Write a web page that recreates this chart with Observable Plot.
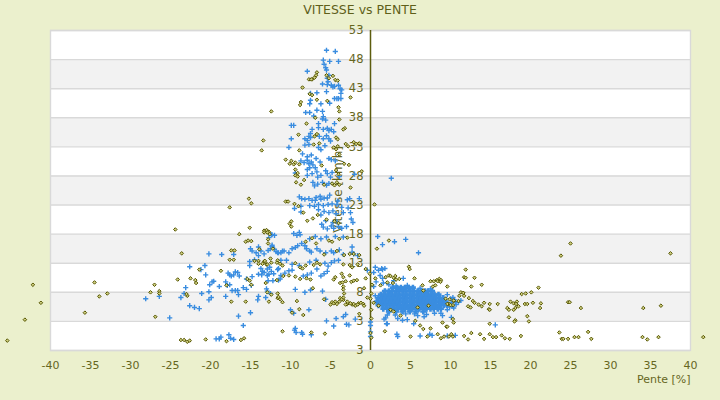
<!DOCTYPE html>
<html>
<head>
<meta charset="utf-8">
<script src="https://cdn.jsdelivr.net/npm/d3@7"></script>
<script src="https://cdn.jsdelivr.net/npm/@observablehq/plot@0.6"></script>
<style>
  html, body { margin: 0; padding: 0; background: #ebf0cd; width: 720px; height: 400px; overflow: hidden; }
  #title { height: 20px; line-height: 20px; text-align: center; font-family: "DejaVu Sans", sans-serif; font-size: 12.5px; color: #5f5f1a; }
</style>
</head>
<body>
<div id="title">VITESSE vs PENTE</div>
<div id="chart"></div>
<script>
// ---- axis ticks ----
const xTicks = [-40, -35, -30, -25, -20, -15, -10, -5, 0, 5, 10, 15, 20, 25, 30, 35, 40];
const yTicks = [-2, 3, 8, 13, 18, 23, 28, 33, 38, 43, 48, 53];
const yTickLabels = ["3", "3", "8", "13", "18", "23", "28", "33", "38", "43", "48", "53"];
const xTitle = "Pente [%]";
const yTitle = "Vitesse [km/h]";

// ---- series 1 (olive) : [pente %, vitesse km/h] ----
const oliveLeft = [
  [-45.4,-0.3],[-43.2,3.3],[-42.2,9.3],[-41.2,6.2],[-35.7,4.5],[-34.5,9.7],[-33.9,7.3],[-32.9,7.8],
  [-27.5,8.0],[-27,9.3],[-26.9,3.8],[-26.4,8.2],[-26.4,7.8],[-24.4,18.8],[-23.6,14.7],[-24.1,10.2],
  [-23.7,-0.2],[-23.3,-0.2],[-22.9,-0.5],[-22.6,-0.3],[-22.9,7.4],[-23,7.7],[-22.5,10.4],[-21.9,10.1],
  [-21.8,9.6],[-21.4,11.9],[-20.6,-0.1],[-18.7,11.7],[-18,9.2],[-17.6,13.6],[-17.1,13.6],[-17.4,15.2],
  [-17,15.2],[-17.4,6.4],[-18,-0.4],[-16.2,-0.2],[-15.8,0.1],[-17.6,22.6],[-15.2,24.1],[-14.9,23.3],
  [-15.1,19.1],[-16.4,18],[-15.6,16.7],[-15.3,16.9],[-14.9,16.8],[-15.6,6.4],[-15.4,10.3],[-15.1,10],
  [-14.9,9.3],[-13.9,15.4],[-14.5,13.4],[-14,13.4],[-13.3,13.3],[-14,12.9],[-13.5,12.9],[-13,12.8],
  [-13.3,18.6],[-13,18.7],[-12.7,18.4],[-12.2,15.5],[-12.5,13.8],[-11.6,13.5],[-12.7,6.4],[-11.6,7.8],
  [-11.6,7.0],[-11.7,10.1],[-13.4,34.1],[-13.6,32.4],[-12.4,39.1]
];
const oliveSpike = [
  [-7,44.9],[-7.3,44.6],[-6.7,45.8],[-6.8,45.3],[-5.5,45.3],[-5.2,44.8],[-4.7,45.2],[-4.4,44.5],[-4.1,44.4],
  [-7.7,44.6],[-7.4,44.6],[-8.5,43.2],[-7.6,42.1],[-7.3,41.9],[-2.5,41.5],[-8.7,40.7],[-8.8,40.2],[-6.7,41.1],
  [-5.4,40.9],[-4,39.8],[-3.9,39.1],[-6.9,38],[-3.9,37.7],[-8,37],[-3.2,36.2],[-3.4,36],[-9,35.1],[-7,34.8],
  [-6.7,35.2],[-4.3,34.6],[-4.1,34.3],[-8.9,32.4],[-7.1,33.4],[-6.4,33.6],[-4.6,32.9],[-4.3,32.6],[-4.1,33.1],
  [-3.1,33.5],[-2.8,33.1],[-2.1,33.8],[-1.8,33.5],[-1.4,33.6],[-3.9,31.7],[-10.6,30.8],[-9.9,30.6],[-10.1,30.1],
  [-9.6,30],[-9.4,30.3],[-8.9,30],[-6.1,29.8],[-3.3,30.1],[-2.7,29.9],[-9.4,29.1],[-9.1,28.5],[-9.4,28.1],
  [-9.1,27.9],[-4.3,29],[-4,28.3],[-1.1,28.8],[-9.3,26.9],[-8.7,26.5],[-8.3,27.3],[-5.8,26.5],[-4.8,26.7],
  [-4.5,26.4],[-4.2,26.9],[-3.9,26.5],[-2.5,26],[0.5,23.1],
  [-10.6,23.6],[-10.3,23.6],[-9.5,23.2],[-9,22.8],[-8.4,21.7],[-7.9,20.3],[-7.2,20.7],[-6.6,21.3],[-9.9,20.2],
  [-10.1,19.8],[-9.9,19.3],[-5.5,20.5],[-4.5,20.2],[-4,19.9],[-13.3,18.3],[-12.9,18.3],[-12.6,18],[-12.8,17.1],
  [-12.8,16.4],[-8.1,16.7],[-7.3,17.3],[-6.8,16.4],[-5.2,16.9],[-4.8,16.7],[-3.9,17.2],[-2.9,17.4],[-5.8,14.5],
  [-4.2,15.1],[-3.3,14.4],[-2.6,14.6],[-2.1,14.6],[-1.4,14.4],[-13.2,13.4],[-12.9,12.8],[-12.4,13.1],[-11.7,13.1],
  [-11.3,12.9],[-11,12.6],[-9.4,13],[-8.8,12.3],[-8.5,12.1],[-8.1,12.6],[-7.1,12.7],[-6.7,13.1],[-6.3,12.8],
  [-3.4,12.8],[-2.6,12.7],[-2.3,12.3],[-1.6,12.8],[-10.9,10.8],[-10.2,10.9],[-9.4,10.7],[-8.8,10.3],[-8,10.4],
  [-7.5,10.2],[-4.4,10.6],[-3.8,9.6],[-3.1,9.9],[-2.4,9.8],[-2.1,10],[-1.7,10.1],[-13.1,9.6],[-12.9,8],
  [-12.4,7.6],[-11.5,7.2],[-11.3,6.8],[-11,6.3],[-9.2,6.5],[-7.2,8.7],[-5.8,6.8],[-5,5.9],[-4.8,6.3],[-4.6,6.1],
  [-3.8,7],[-3.4,6.7],[-2.9,6],[-2.3,5.9],[-1.9,5.7],[-1.5,6.1],[-9.8,4.5],[-8.9,5.1],[-8.4,4.1],[-11,1.3],
  [-7.4,1.1],[-5.7,0.9],
  [-4.6,10.2],[-3.6,11.2],[-3.4,10.6],[-3.5,9.7],[-3.4,9],[-3.4,8.5],[-3.3,7.8],[-3.4,7.1],[-3.6,6.8],
  [-2.9,6.4],[-3.1,5.9],[-2.5,6.1],[-2.1,6.0],[-1.6,5.9],[-1.2,6.2],[-0.9,6.0],[-4.4,6.4],[-4.2,6.0],
  [-3.9,6.4],[-2.6,10.9],[-1.4,4.3],[-0.6,10.4],[-0.8,8.7],[-0.4,7.1],[-0.8,5.7],[-0.1,11.2],[-0.6,12.0]
];
const oliveRight = [
  [0,6.9],[0.4,6.2],[1,5.7],[0.6,10.4],[1.25,9.2],[2.1,9.7],[2.3,10.9],[2.9,10.5],[3.1,10.8],[0.1,3.5],
  [0,1],[0.1,0.2],[0.2,9.3],[0.1,7.8],[0.1,5.0],
  [4.8,12.4],[4.9,12.0],[11.9,11.9],[11.7,10.6],[11.9,10.5],[13,10.5],[8.6,10.3],[8.3,10.1],[8.8,10.1],
  [7.9,9.9],[7.8,9],[8.1,9.2],[5.5,10.4],[3.2,10.2],[3.6,10.3],[2.8,9.6],[2.5,10.8],[1.9,10.6],[9.6,9],
  [12.6,9],[13.9,9.3],[21,8.8],[20.1,8],[19.4,7.8],[18.9,7.7],[11.6,7.9],[11.7,7.4],[12.3,7],[11.1,7.4],
  [10.4,6.5],[10.3,5.8],[9.8,6],[12.8,6.5],[13,6.2],[13.5,5.9],[13.9,5.6],[14.2,6.2],[14.9,6],[15.9,6],
  [14.8,5.1],[14.9,5],[17.5,6.4],[17.9,6.1],[18.3,6.4],[18.2,6],[17.1,5.3],[17.3,5],[18.1,5.3],[17.9,5],
  [18.5,5.6],[19.3,6],[19.6,6],[20.3,6.2],[21.3,6.1],[21.2,5.3],[24.7,6.3],[24.9,6.3],[26.3,5.3],[34.1,5.3],
  [36.3,5.7],[17.3,3.7],[18.1,3.2],[18,3],[19.6,3.9],[19.8,3],[14.9,2.6],[18.8,0.5],[17.4,0],[23.6,1.1],
  [23.9,0],[24.1,0],[24.7,0],[25.5,0.3],[26,0.3],[27.2,1.2],[27.6,0],[34,0.3],[34.6,-0.1],[36,0.3],[41.6,0.3],
  [11.7,0.5],[12.6,1],[12.2,-0.1],[13.7,0.8],[14.2,0],[14.9,0.8],[15.3,0.3],[15.7,0.3],[16.4,0.6],[16.8,0.1],
  [8.4,0.8],[8.8,0.1],[9.2,0.4],[9.8,0.4],[10.1,0.8],[10.3,0.4],[5.0,0.4],[7.1,0.4],[7.5,1.8],[1.8,1.3],
  [5.6,3.1],[6.2,2.3],[6.6,1.7],[9.5,2.1],[9.6,2.1],[10.3,3.4],[10.4,2.8],
  [0.8,15.5],[2.3,16.9],[25,16.4],[23.8,14.3],[37.5,14.7],
  [6.5,9.2],[6.6,8.3],[7.5,9.9],[8.4,9.9],[8.75,9.8],[9.4,6.9],[9.9,6.8],[10.4,6.6],[11,6.5],[9.6,6],
  [10,5.8],[11.3,8],[11.6,7.9],[12.2,5.6],[12.5,5.4],[2.5,5],[2.9,4.7],[3.75,4],[5.9,5.4],[7.25,5.7],[9,2.8]
];

// ---- series 2 (blue) ----
const blueLeft = [
  [-28.1,6.9],[-26.4,7.3],[-25.1,3.6],[-23.7,7.1],[-23.3,7.8],[-23.1,8.8],[-22.6,12.4],[-22.6,5.7],
  [-22,5.4],[-21.4,5.2],[-21.2,11.9],[-21.1,7.8],[-20.7,12.6],[-20.6,11],[-20.2,14.6],[-20.2,8.1],
  [-20.2,6.7],[-20.1,9.3],[-19.8,9.8],[-19.6,9.9],[-19.9,7.1],[-19.3,0],[-18.9,0],[-18.9,9],[-18.6,14.5],
  [-18.1,9.8],[-17.9,9.2],[-17.6,9.3],[-18.1,7.3],[-17.8,11.3],[-17.6,11.0],[-17.1,14.5],[-17.1,11],
  [-16.9,11.5],[-16.6,11.4],[-17.3,8.3],[-16.9,8.3],[-16.6,8.3],[-16.5,7.6],[-16.5,3.9],[-17.7,0.7],
  [-17.1,-0.1],[-16.4,10.8],[-17.4,10.8],[-15.9,8.8],[-15.5,8.5],[-15.9,2.3],[-15,4.5],[-15.1,13.3],
  [-15.1,12.6],[-15,15.5],[-14.8,15.1],[-14,15.8],[-14.3,14.8],[-14,14.3],[-14.5,13.6],[-12.8,15.2],
  [-12.5,15.5],[-12.3,15.9],[-11.8,15],[-11.6,14.8],[-15.5,10.3],[-14.8,10.7],[-14,11.1],[-13.5,11.6],
  [-12.9,12],[-12.6,12.3],[-13.6,11],[-12.9,10.9],[-12.2,10],[-11.5,10.1],[-11.3,10.3],[-11.6,11.9],
  [-14.9,9.2],[-13,8.6],[-12.9,8.2],[-14,7.3],[-14.1,6.7],[-13.1,7.1],[-12.5,7.8],[-12.4,17.9],[-12.7,17.4],
  [-18.7,0.3],[-17.5,0.1]
];
const blueSpike = [
  [-5.5,49.6],[-4.4,49.4],[-5.9,47.9],[-5.8,47.2],[-5.6,46.6],[-5.1,47.7],[-4,47.7],[-5.5,46.2],[-5.2,45.3],
  [-5.4,44.8],[-7.9,46],[-6,43.8],[-5.3,44.2],[-5.4,43.7],[-7.5,42.2],[-6.7,42.3],[-5.5,42.5],[-4.9,43.6],
  [-4.7,43.3],[-4.5,43.4],[-4,43.6],[-3.8,43],[-3.6,42.8],[-3.7,42.2],[-4.5,41.3],[-4.2,41.3],[-4,41.3],
  [-3.7,41.3],[-7.5,41],[-7.6,40.4],[-6.2,40.4],[-5.1,40.5],[-8.1,38.9],[-7.6,38.9],[-6.7,39.3],[-6,39.1],
  [-7.1,38.3],[-5.9,38.2],[-5.6,37.6],[-6,37.8],[-6.5,37],[-9.9,36.7],[-9.6,36.7],[-7.3,36],[-7.5,35.3],
  [-6.5,36.3],[-5.9,36],[-5.4,36.2],[-5.2,35.8],[-4.9,36],[-4.6,35.6],[-4.5,37],[-9.9,34.4],[-8.2,34.4],
  [-7.9,34.1],[-7.7,34.8],[-7.5,34.6],[-6.4,34.8],[-5.9,34.4],[-5.5,34.9],[-5.2,34.4],[-5,34],[-10.2,32.9],
  [-8.2,33.3],[-7.7,33.4],[-8.5,31.8],[-7.9,31.3],[-7.4,31.6],[-6.5,32.9],[-6.2,32.5],[-5.7,33.2],[-8.7,30.6],
  [-8.3,30.3],[-7.9,30.7],[-7.7,30.1],[-7.4,30.4],[-7.2,29.9],[-6.8,31],[-6.3,30.4],[-5.2,31],[-4.9,30.8],
  [-4.4,30.6],[-7.9,29.1],[-7.6,29.4],[-7.3,28.4],[-7.9,28.1],[-6.9,29.4],[-6.7,28.7],[-6.2,28.1],[-6.6,27.8],
  [-5.6,28.9],[-5.4,28.4],[-5,27.8],[-4.8,28.6],[-3.9,27.9],[-9.4,28.5],[-7.2,26.9],[-7,26.3],[-6.6,26.6],
  [-6,26.9],[-5.5,26.4],[-5.2,26.7],[-2,28.3],[2.6,27.6],
  [-8.9,24.4],[-8.6,24.1],[-8.2,24],[-7.7,24.1],[-7.3,23.8],[-6.9,23.8],[-6.8,24.3],[-6.3,24.5],[-6.2,24],
  [-5.8,24.2],[-5.4,24.2],[-5.1,24.7],[-4.1,23.7],[-2.9,23.9],[-2.6,24.1],[-1.4,24.1],[-8.7,22.8],[-7.6,22.9],
  [-7,22.8],[-6.5,23.1],[-5.9,22.9],[-5.3,23.1],[-4.8,23.2],[-4.2,23.1],[-9.5,22.4],[-8.7,21.8],[-6.5,22.2],
  [-6.2,21.3],[-5.8,21.9],[-5.2,21.7],[-4.7,22],[-4.3,21.5],[-3.6,22.6],[-3.4,21.7],[-2.8,22.5],[-2.5,21.7],
  [-2.4,20.6],[-2.2,20],[-5.6,20.3],[-4.7,20],[-4.2,20.1],[-6.1,19.7],[-5.9,19.2],[-5.4,18.9],[-4.9,19.4],
  [-4.6,19],[-4,19.3],[-3.6,19],[-3,19.3],[-12.3,17.9],[-12,17.8],[-9.6,18.1],[-9.2,17.8],[-8.9,18.3],
  [-8.8,17.9],[-7.6,17.2],[-6.9,17.6],[-6.2,17.2],[-5.5,17.5],[-4.4,17.6],[-3.4,17.5],[-2.3,15.8],[-2.3,14.9],
  [-12.3,16.1],[-12,15.4],[-11.5,14.8],[-11.2,14.8],[-11,15.1],[-13.7,15.1],[-13.3,14.6],[-10.8,15.1],
  [-10.2,14.8],[-9.8,15.5],[-9.4,15.7],[-9.1,16],[-8.6,16.4],[-8.2,16],[-8,15.5],[-7.6,15.1],[-7.4,14.9],
  [-6.7,15.5],[-6.3,15.1],[-5.6,14.8],[-4.9,15.1],[-4.6,14.8],[-3.9,15.3],[-3.4,14.5],[-2.1,14.6],[-1.6,14.3],
  [-11.2,13.5],[-10.5,13.5],[-9.8,12.8],[-8.9,12.6],[-7.6,13.2],[-6.8,13.5],[-5.7,13],[-5.3,12.5],[-4.9,13.1],
  [-4.5,13.4],[-4,13.5],[-13.7,12.1],[-13.3,11.4],[-12.7,11.1],[-12.4,11.6],[-12.1,11.2],[-11.5,12.1],
  [-11.2,10.9],[-10.7,11.3],[-10.2,11.7],[-9.8,11.8],[-8.4,10.8],[-7.9,11],[-7.4,11.3],[-6.7,12],[-6.2,10.8],
  [-5.8,11.2],[-5.4,11.6],[-12.8,10],[-9.4,8.5],[-8.2,8],[-7.5,8.4],[-6,8.2],[-5.6,6.8],[-10,5],[-9.6,4.4],
  [-7.7,5],[-9.4,1.8],[-9.5,1.5],[-9.3,1.1],[-8.6,1.1],[-8.5,0.8],[-7.4,0.7],[-5.5,3.1],[-3,2.5],[-2.7,2.4],
  [-4.3,3.5],[-3.4,3.8],[-3.1,4.2],[-1.9,3.4],[-4.6,2.2],[-0.4,11.8]
];
const blueRight = [
  [0.9,17.6],[1.5,16.2],[3,16.7],[4.4,17.1],[6,14.8],[1.5,11.9],[1.8,12.1],
  [0.6,12.3],[1,11.8],[0.4,11.4],[1.4,12.1],[1.2,10.9],[1.5,10.4],[0.7,9.8],[1.6,9.6],[2.3,9.3],[3.2,9.1],
  [4.1,10.4],[2.9,10],[4.6,9.2],[6.2,8.7],[7.5,8.6],[0.4,9.0],[0.6,7.4],[9.6,7.6],[10.3,7.1],[10.6,6.4],
  [10.2,5.6],[1.7,3.4],[2.1,4.1],[3.1,4.1],[4.0,3.2],[4.4,4.3],[5.5,4.3],[5.4,2.6],[6.7,3.8],[7.0,4.2],
  [8.0,4.4],[8.8,4.4],[9.6,5.0],[10.1,3.7],[2.0,2.6],[15.6,2.4],[3.3,0.8],[3.4,0.4],[6.2,0.5],[7.4,0.8],
  [7.7,0.6],[9.6,0.5],[10.6,0.6],[0,2.9],[0,2.3],[0,1.2],[0,0.4],[1.9,3.6],[3.4,3.5],[4.6,3.3],[5.9,4],
  [2.1,2.6],[9,4],
  [10.0,6.9],[10.5,6.7],[11.0,6.3],[10.1,6.2],[10.7,5.9],[11.3,6.6],[9.9,5.5],[10.4,5.3]
];
// dense cluster of blue points (read as a solid mass in the picture)
const blueBlob = [
  [2.8,8.8],[3.3,8.8],[3.8,8.8],[4.3,8.8],[4.8,8.8],[5.3,8.8],
  [1.8,8.2],[2.3,8.2],[2.7,8.2],[3.2,8.2],[3.6,8.2],[4.1,8.2],[4.5,8.2],[5.0,8.2],[5.4,8.2],[5.9,8.2],[6.3,8.2],[6.8,8.2],[7.2,8.2],[7.7,8.2],
  [1.3,7.6],[1.7,7.6],[2.2,7.6],[2.6,7.6],[3.1,7.6],[3.5,7.6],[4.0,7.6],[4.4,7.6],[4.9,7.6],[5.3,7.6],[5.8,7.6],[6.2,7.6],[6.7,7.6],[7.1,7.6],[7.6,7.6],[8.0,7.6],[8.5,7.6],
  [1.0,7.0],[1.5,7.0],[1.9,7.0],[2.4,7.0],[2.8,7.0],[3.3,7.0],[3.7,7.0],[4.2,7.0],[4.6,7.0],[5.1,7.0],[5.5,7.0],[6.0,7.0],[6.4,7.0],[6.9,7.0],[7.3,7.0],[7.8,7.0],[8.2,7.0],[8.7,7.0],[9.1,7.0],
  [0.8,6.4],[1.3,6.4],[1.7,6.4],[2.2,6.4],[2.6,6.4],[3.1,6.4],[3.5,6.4],[4.0,6.4],[4.4,6.4],[4.9,6.4],[5.3,6.4],[5.8,6.4],[6.2,6.4],[6.7,6.4],[7.1,6.4],[7.6,6.4],[8.0,6.4],[8.5,6.4],[8.9,6.4],[9.4,6.4],
  [1.0,5.8],[1.5,5.8],[1.9,5.8],[2.4,5.8],[2.8,5.8],[3.3,5.8],[3.7,5.8],[4.2,5.8],[4.6,5.8],[5.1,5.8],[5.5,5.8],[6.0,5.8],[6.4,5.8],[6.9,5.8],[7.3,5.8],[7.8,5.8],[8.2,5.8],[8.7,5.8],[9.2,5.8],[9.6,5.8],
  [1.6,5.2],[2.1,5.2],[2.5,5.2],[3.0,5.2],[3.4,5.2],[3.9,5.2],[4.3,5.2],[4.8,5.2],[5.2,5.2],[5.7,5.2],[6.1,5.2],[6.6,5.2],[7.0,5.2],[7.5,5.2],[7.9,5.2],[8.4,5.2],[8.8,5.2],
  [2.3,4.7],[3.2,4.7],[4.0,4.7],[4.9,4.7],[5.7,4.7],[6.6,4.7]
];

const olive = [...oliveLeft, ...oliveSpike, ...oliveRight];
const blue = [...blueLeft, ...blueSpike, ...blueRight];

const bands = [];
for (let i = 1; i < yTicks.length - 1; i += 2) bands.push({y1: yTicks[i], y2: yTicks[i + 1]});

const txt = "#66661e";
const blueColor = "#3a8de0";
const chart = Plot.plot({
  width: 720,
  height: 380,
  marginTop: 10,
  marginBottom: 50,
  marginLeft: 50,
  marginRight: 30,
  style: {background: "transparent", fontFamily: "DejaVu Sans, sans-serif", overflow: "visible"},
  x: {domain: [-40, 40], axis: null},
  y: {domain: [-2, 53], axis: null},
  marks: [
    Plot.frame({fill: "white", stroke: null}),
    Plot.rect(bands, {x1: -40, x2: 40, y1: "y1", y2: "y2", fill: "#f2f2f2"}),
    Plot.ruleY(yTicks, {stroke: "#d9d9d9", strokeWidth: 1.4}),
    Plot.frame({stroke: "#d9d9d9", strokeWidth: 1.4}),
    Plot.ruleX([0], {stroke: "#5c5c0e", strokeWidth: 1.5}),
    Plot.text(yTicks, {x: 0, y: d => d, text: (d, i) => yTickLabels[i], dx: -7, textAnchor: "end", fontSize: 11.5, fill: txt}),
    Plot.text(xTicks, {x: d => d, y: -2, text: d => String(d), dy: 15, fontSize: 11, fill: txt}),
    Plot.text([xTitle], {x: 40, y: -2, text: d => d, dy: 29, textAnchor: "end", fontSize: 11, fill: txt}),
    Plot.text([yTitle], {x: 0, y: 25.7, text: d => d, dx: -32, rotate: -90, fontSize: 12, fill: txt}),
    Plot.dot(blueBlob, {x: d => d[0], y: d => d[1], symbol: "plus", r: 2.1, stroke: blueColor, strokeWidth: 2.6}),
    Plot.dot(blue, {x: d => d[0], y: d => d[1], symbol: "plus", r: 1.8, stroke: blueColor, strokeWidth: 1.4}),
    Plot.dot(olive, {x: d => d[0], y: d => d[1], symbol: "diamond2", r: 1.6, stroke: "#555500", fill: "#cfcf80", strokeWidth: 1})
  ]
});
document.getElementById("chart").appendChild(chart);
</script>
</body>
</html>
